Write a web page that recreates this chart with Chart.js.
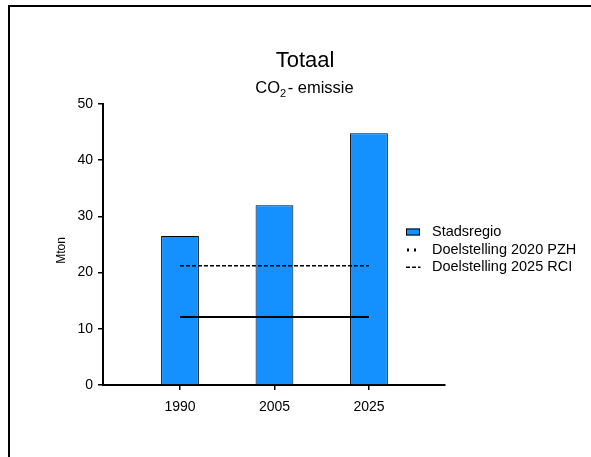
<!DOCTYPE html>
<html>
<head>
<meta charset="utf-8">
<title>Totaal CO2-emissie</title>
<script src="https://cdn.jsdelivr.net/npm/chart.js@4/dist/chart.umd.min.js"></script>
<style>
  html, body { margin: 0; padding: 0; background: #fff; overflow: hidden; }
  #wrap { position: relative; width: 591px; height: 457px; }
  #frame { position: absolute; left: 8px; top: 5px; width: 700px; height: 600px;
           border-left: 2px solid #000; border-top: 2px solid #000; box-sizing: border-box; }
  canvas { position: absolute; left: 0; top: 0; }
</style>
</head>
<body>
<div id="wrap">
  <div id="frame"></div>
  <canvas id="c" width="591" height="457"></canvas>
</div>
<script>
// Emission data (Mton CO2)
const years = ['1990', '2005', '2025'];
const stadsregio = [26.5, 32.0, 44.8];
const doelstelling2020PZH = [12.1, 12.1, 12.1];
const doelstelling2025RCI = [21.2, 21.2, 21.2];
const yTickValues = [0, 10, 20, 30, 40, 50];

const FONT = "'Liberation Sans', Arial, Helvetica, sans-serif";
const BAR_BLUE = '#1590FF';

const toPoints = arr => arr.map((v, i) => ({ x: i, y: v }));

// Titles, axis caption and legend drawn on top of the chart
const decorations = {
  id: 'decorations',
  afterDraw(chart) {
    const ctx = chart.ctx;
    const area = chart.chartArea;
    ctx.save();
    ctx.fillStyle = '#000';

    // Main title
    ctx.font = '22px ' + FONT;
    ctx.textAlign = 'center';
    ctx.textBaseline = 'alphabetic';
    ctx.fillText('Totaal', 305, 67);

    // Subtitle with subscript
    const partA = 'CO', sub = '2', partB = '- emissie';
    ctx.font = '16.5px ' + FONT;
    const wA = ctx.measureText(partA).width;
    const wB = ctx.measureText(partB).width;
    ctx.font = '11px ' + FONT;
    const wS = ctx.measureText(sub).width;
    const gap = 1.5;
    const total = wA + wS + wB + gap;
    let x = 304.5 - total / 2;
    ctx.textAlign = 'left';
    ctx.font = '16.5px ' + FONT;
    ctx.fillText(partA, x, 93);
    x += wA;
    ctx.font = '11px ' + FONT;
    ctx.fillText(sub, x, 97);
    x += wS + gap;
    ctx.font = '16.5px ' + FONT;
    ctx.fillText(partB, x, 93);

    // Y axis caption
    ctx.save();
    ctx.translate(65, (area.top + area.bottom) / 2 + 6);
    ctx.rotate(-Math.PI / 2);
    ctx.font = '12px ' + FONT;
    ctx.textAlign = 'center';
    ctx.textBaseline = 'alphabetic';
    ctx.fillText('Mton', 0, 0);
    ctx.restore();

    // Legend
    const ds = chart.data.datasets;
    const lx = 406, tx = 432;
    const rows = [232, 249.5, 267];
    ctx.font = '14.5px ' + FONT;
    ctx.textAlign = 'left';
    ctx.textBaseline = 'middle';

    // bar swatch
    ctx.fillStyle = ds[0].backgroundColor;
    ctx.fillRect(lx, rows[0] - 3.5, 14, 7);
    ctx.strokeStyle = '#000';
    ctx.lineWidth = 1;
    ctx.strokeRect(lx + 0.5, rows[0] - 3.5 + 0.5, 13, 6);
    ctx.fillStyle = '#000';
    ctx.fillText(ds[0].label, tx, rows[0]);

    // dotted swatch
    ctx.fillRect(lx + 1, rows[1] - 1, 2, 3);
    ctx.fillRect(lx + 8, rows[1] - 1, 2, 3);
    ctx.fillText(ds[1].label, tx, rows[1]);

    // dashed swatch
    ctx.fillRect(lx, rows[2] - 0.5, 4, 1.5);
    ctx.fillRect(lx + 6, rows[2] - 0.5, 4, 1.5);
    ctx.fillRect(lx + 12, rows[2] - 0.5, 2.5, 1.5);
    ctx.fillText(ds[2].label, tx, rows[2]);

    ctx.restore();
  }
};

new Chart(document.getElementById('c'), {
  data: {
    datasets: [
      {
        type: 'bar',
        label: 'Stadsregio',
        data: toPoints(stadsregio),
        backgroundColor: BAR_BLUE,
        borderColor: '#000',
        borderWidth: 1,
        barPercentage: 0.5,
        categoryPercentage: 0.8,
        order: 2
      },
      {
        type: 'line',
        label: 'Doelstelling 2020 PZH',
        data: toPoints(doelstelling2020PZH),
        borderColor: '#000',
        borderWidth: 2,
        pointRadius: 0,
        fill: false,
        order: 1
      },
      {
        type: 'line',
        label: 'Doelstelling 2025 RCI',
        data: toPoints(doelstelling2025RCI),
        borderColor: '#000',
        borderWidth: 1.5,
        borderDash: [4, 2],
        pointRadius: 0,
        fill: false,
        order: 1
      }
    ]
  },
  options: {
    responsive: false,
    animation: false,
    devicePixelRatio: 1,
    layout: { padding: { left: 0, top: 104, right: 146, bottom: 0 } },
    plugins: {
      legend: { display: false },
      title: { display: false },
      tooltip: { enabled: false }
    },
    scales: {
      x: {
        type: 'linear',
        offset: false,
        min: -0.815,
        max: 2.805,
        afterBuildTicks: s => { s.ticks = years.map((_, i) => ({ value: i })); },
        afterFit: s => { s.height = 72; },
        grid: { offset: false, drawOnChartArea: false, drawTicks: true, tickLength: 5, color: '#000', lineWidth: 1.5 },
        border: { display: true, color: '#000', width: 2 },
        ticks: {
          color: '#000',
          font: { family: FONT, size: 14 },
          padding: 9,
          maxRotation: 0,
          callback: v => years[v] ?? ''
        }
      },
      y: {
        type: 'linear',
        min: 0,
        max: 50,
        afterBuildTicks: s => { s.ticks = yTickValues.map(v => ({ value: v })); },
        afterFit: s => { s.width = 103; },
        grid: { drawOnChartArea: false, drawTicks: true, tickLength: 5, color: '#000', lineWidth: 1.5 },
        border: { display: true, color: '#000', width: 2 },
        ticks: {
          color: '#000',
          font: { family: FONT, size: 14 },
          padding: 5
        }
      }
    }
  },
  plugins: [decorations]
});
</script>
</body>
</html>
